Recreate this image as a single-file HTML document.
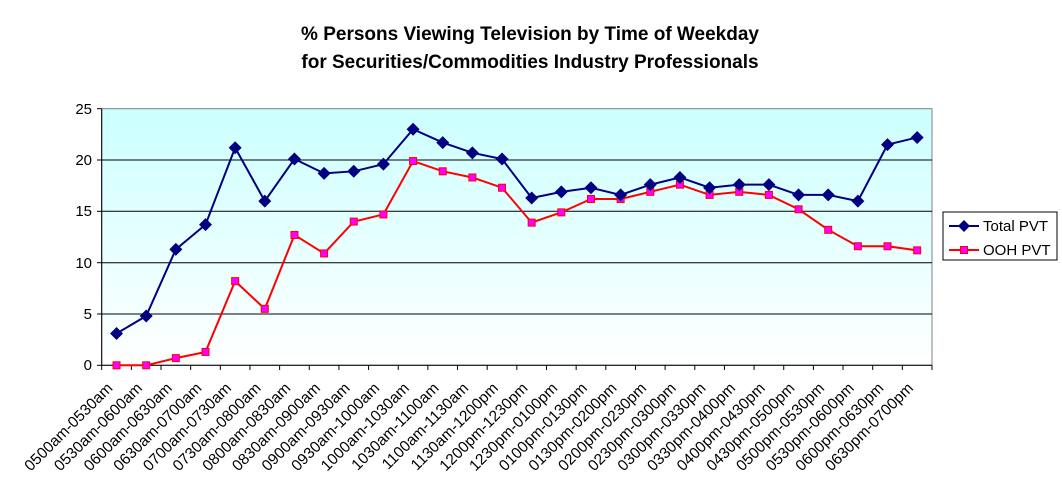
<!DOCTYPE html>
<html><head><meta charset="utf-8"><style>
html,body{margin:0;padding:0;background:#fff;}
svg{display:block;font-family:"Liberation Sans",Arial,sans-serif;}
</style></head><body>
<svg id="s" width="1062" height="496" viewBox="0 0 1062 496" xmlns="http://www.w3.org/2000/svg">
<defs><linearGradient id="g" x1="0" y1="0" x2="0" y2="1"><stop offset="0" stop-color="#ccffff"/><stop offset="1" stop-color="#ffffff"/></linearGradient></defs>
<text x="530" y="40" text-anchor="middle" font-size="19" font-weight="bold">% Persons Viewing Television by Time of Weekday</text>
<text x="530" y="68" text-anchor="middle" font-size="19" font-weight="bold">for Securities/Commodities Industry Professionals</text>
<rect x="101.7" y="108.7" width="830.3" height="256.6" fill="url(#g)" stroke="#808080" stroke-width="1"/>
<g stroke="#000" stroke-width="1">
<line x1="101.7" y1="160" x2="932" y2="160"/><line x1="101.7" y1="211.3" x2="932" y2="211.3"/>
<line x1="101.7" y1="262.7" x2="932" y2="262.7"/><line x1="101.7" y1="314" x2="932" y2="314"/>
<line x1="101.7" y1="108.7" x2="101.7" y2="365.3"/><line x1="101.7" y1="365.3" x2="932" y2="365.3"/>
<line x1="97" y1="108.7" x2="101.7" y2="108.7"/><line x1="97" y1="160" x2="101.7" y2="160"/><line x1="97" y1="211.3" x2="101.7" y2="211.3"/><line x1="97" y1="262.7" x2="101.7" y2="262.7"/><line x1="97" y1="314" x2="101.7" y2="314"/><line x1="97" y1="365.3" x2="101.7" y2="365.3"/>
</g>
<g font-size="15" text-anchor="end">
<text x="92" y="114">25</text><text x="92" y="165">20</text><text x="92" y="216">15</text><text x="92" y="268">10</text><text x="92" y="319">5</text><text x="92" y="370">0</text>
</g>
<g id="ticks" stroke="#000" stroke-width="1"></g>
<g id="labels" font-size="15.5" text-anchor="end"></g>
<g id="series"></g>
<rect x="943" y="212" width="114" height="48" fill="#fff" stroke="#000" stroke-width="1"/>
<line x1="949" y1="226" x2="979" y2="226" stroke="#000080" stroke-width="2"/>
<polygon points="964,220 970,226 964,232 958,226" fill="#000080"/>
<text x="983" y="231" font-size="15">Total PVT</text>
<line x1="949" y1="250" x2="979" y2="250" stroke="#ff0000" stroke-width="2"/>
<rect x="960.5" y="246.5" width="7" height="7" fill="#ff00ff" stroke="#ff0000" stroke-width="1"/>
<text x="983" y="255" font-size="15">OOH PVT</text>
</svg>
<script>
var L=["0500am-0530am","0530am-0600am","0600am-0630am","0630am-0700am","0700am-0730am","0730am-0800am","0800am-0830am","0830am-0900am","0900am-0930am","0930am-1000am","1000am-1030am","1030am-1100am","1100am-1130am","1130am-1200pm","1200pm-1230pm","1230pm-0100pm","0100pm-0130pm","0130pm-0200pm","0200pm-0230pm","0230pm-0300pm","0300pm-0330pm","0330pm-0400pm","0400pm-0430pm","0430pm-0500pm","0500pm-0530pm","0530pm-0600pm","0600pm-0630pm","0630pm-0700pm"];
var T=[3.1,4.8,11.3,13.7,21.2,16.0,20.1,18.7,18.9,19.6,23.0,21.7,20.7,20.1,16.3,16.9,17.3,16.6,17.6,18.3,17.3,17.6,17.6,16.6,16.6,16.0,21.5,22.2];
var O=[0,0,0.7,1.3,8.2,5.5,12.7,10.9,14.0,14.7,19.9,18.9,18.3,17.3,13.9,14.9,16.2,16.2,16.9,17.6,16.6,16.9,16.6,15.2,13.2,11.6,11.6,11.2];
var ns="http://www.w3.org/2000/svg";
function el(p,n,a,t){var e=document.createElementNS(ns,n);for(var k in a)e.setAttribute(k,a[k]);if(t)e.textContent=t;document.getElementById(p).appendChild(e);return e;}
var w=830.3/28;
function X(i){return 101.7+w*(i+0.5);}
function Y(v){return 365.3-10.264*v;}
for(var i=0;i<=28;i++){var x=101.7+w*i;el("ticks","line",{x1:x,y1:365.3,x2:x,y2:370});}
for(var i=0;i<28;i++){var x=X(i)-3,y=389;el("labels","text",{x:x,y:y,transform:"rotate(-45 "+x+" "+y+")"},L[i]);}
var pt=O.map(function(v,i){return X(i)+","+Y(v)}).join(" ");
el("series","polyline",{points:pt,fill:"none",stroke:"#ff0000","stroke-width":2});
var pt2=T.map(function(v,i){return X(i)+","+Y(v)}).join(" ");
el("series","polyline",{points:pt2,fill:"none",stroke:"#000080","stroke-width":2});
O.forEach(function(v,i){el("series","rect",{x:X(i)-3.5,y:Y(v)-3.5,width:7,height:7,fill:"#ff00ff",stroke:"#ff0000","stroke-width":1});});
T.forEach(function(v,i){var x=X(i),y=Y(v);el("series","polygon",{points:(x)+","+(y-6.5)+" "+(x+6.5)+","+y+" "+x+","+(y+6.5)+" "+(x-6.5)+","+y,fill:"#000080"});});
</script>
</body></html>
